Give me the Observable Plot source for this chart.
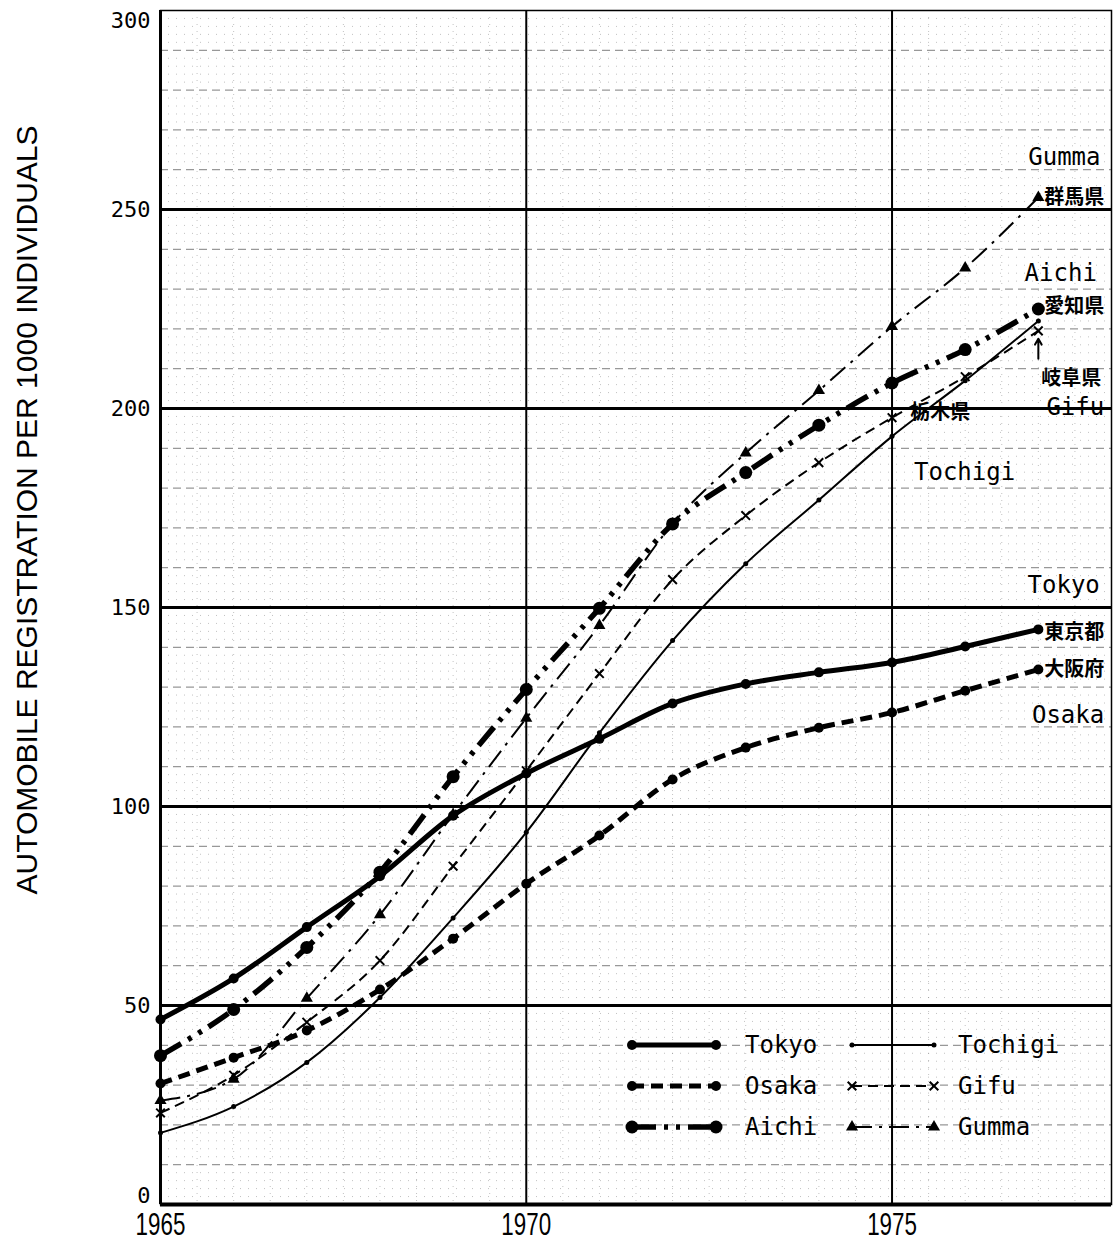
<!DOCTYPE html>
<html><head><meta charset="utf-8">
<script src="https://cdn.jsdelivr.net/npm/d3@7"></script>
<script src="https://cdn.jsdelivr.net/npm/@observablehq/plot@0.6"></script>
<style>
body{margin:0;background:#fff;}
#chart{position:relative;width:1114px;height:1243px;}
</style></head><body><div id="chart"></div>
<script>
// ---- data ----
const years   = [1965,1966,1967,1968,1969,1970,1971,1972,1973,1974,1975,1976,1977];
const tokyo   = [46.5,56.8,69.7,82.5,97.7,108.3,117.0,125.9,130.8,133.7,136.2,140.2,144.5];
const osaka   = [30.4,36.9,43.7,54.0,66.8,80.6,92.7,106.8,114.8,119.8,123.6,129.1,134.4];
const aichi   = [37.4,49.0,64.6,83.5,107.5,129.4,149.8,171.0,183.9,195.8,206.4,214.8,225.0];
const tochigi = [18.0,24.6,35.7,52.0,72.0,93.5,118.5,141.7,161.0,177.0,193.0,207.0,222.0];
const gifu    = [23.0,32.5,45.8,61.3,85.0,109.0,133.4,157.0,173.1,186.4,197.7,208.0,219.5];
const gumma   = [26.1,31.5,51.8,72.8,98.0,122.2,145.5,171.0,188.8,204.5,220.6,235.3,253.0];
const seriesNames = ["Tokyo","Osaka","Aichi","Tochigi","Gifu","Gumma"];
const seriesValues = [tokyo,osaka,aichi,tochigi,gifu,gumma];
const yTicks = [0,50,100,150,200,250,300];
const xTicks = [1965,1970,1975];
const yTitle = "AUTOMOBILE REGISTRATION PER 1000 INDIVIDUALS";
const annotations = [
  {text:"Gumma",  x:1977.85, y:263.0, kind:"en", anchor:"end"},
  {text:"群馬県", x:1977.90, y:253.0, kind:"ja", anchor:"end"},
  {text:"Aichi",  x:1977.80, y:234.0, kind:"en", anchor:"end"},
  {text:"愛知県", x:1977.90, y:225.5, kind:"ja", anchor:"end"},
  {text:"岐阜県", x:1977.86, y:207.5, kind:"ja", anchor:"end"},
  {text:"Gifu",   x:1977.90, y:200.3, kind:"en", anchor:"end"},
  {text:"栃木県", x:1975.25, y:199.0, kind:"ja", anchor:"start"},
  {text:"Tochigi",x:1975.30, y:184.0, kind:"en", anchor:"start"},
  {text:"Tokyo",  x:1977.84, y:155.5, kind:"en", anchor:"end"},
  {text:"東京都", x:1977.90, y:143.7, kind:"ja", anchor:"end"},
  {text:"大阪府", x:1977.90, y:134.4, kind:"ja", anchor:"end"},
  {text:"Osaka",  x:1977.90, y:122.9, kind:"en", anchor:"end"}
];
const arrowNote = [{x:1977.0, y1:212.5, y2:217.5}];

// ---- styles ----
const styles = {
  Tokyo:   {w:5,   dash:null,               sym:"circle",   r:5,   fill:true},
  Osaka:   {w:5,   dash:"12,7",             sym:"circle",   r:5,   fill:true},
  Aichi:   {w:5.5, dash:"24,8,4,8,4,8",     sym:"circle",   r:6.5, fill:true},
  Tochigi: {w:2,   dash:null,               sym:"circle",   r:2.5, fill:true},
  Gifu:    {w:2,   dash:"10,6",             sym:"times",    r:4,   fill:false},
  Gumma:   {w:2,   dash:"20,7,3,7",         sym:"triangle", r:4.5, fill:true}
};

const rows = [];
seriesNames.forEach((name,i)=>years.forEach((yr,j)=>rows.push({series:name, year:yr, value:seriesValues[i][j]})));

const fineY = d3.range(2,300,2).filter(v=>v%10!==0);
const tenY = d3.range(10,300,10).filter(v=>v%50!==0);
const halfX = d3.range(1965.5,1978,0.5).filter(v=>v!==1970 && v!==1975);

const seriesMarks = seriesNames.flatMap(name=>{
  const s = styles[name];
  const d = rows.filter(r=>r.series===name);
  return [
    Plot.line(d,{x:"year",y:"value",curve:"monotone-x",stroke:"black",strokeWidth:s.w,strokeDasharray:s.dash,strokeLinecap:"butt"}),
    Plot.dot(d,{x:"year",y:"value",r:s.r,symbol:s.sym,fill:s.fill?"black":"none",stroke:"black",strokeWidth:s.fill?0:2})
  ];
});

const chart = Plot.plot({
  width:1114, height:1243,
  marginLeft:160, marginRight:3, marginTop:10, marginBottom:39,
  x:{domain:[1965,1978]},
  y:{domain:[0,300]},
  style:{background:"white"},
  marks:[
    Plot.ruleY(fineY,{stroke:"#777",strokeWidth:1,strokeDasharray:"1,7",strokeOpacity:0.45}),
    Plot.ruleY(tenY,{stroke:"#444",strokeWidth:1.2,strokeDasharray:"8,5",strokeOpacity:0.55}),
    Plot.ruleX(halfX,{stroke:"#777",strokeWidth:1,strokeDasharray:"1,6",strokeOpacity:0.45}),
    Plot.ruleY([50,100,150,200,250],{stroke:"black",strokeWidth:3}),
    Plot.ruleX([1970,1975],{stroke:"black",strokeWidth:2}),
    Plot.frame({stroke:"black",strokeWidth:1.5}),
    Plot.ruleX([1965],{stroke:"black",strokeWidth:3}),
    Plot.ruleY([0],{stroke:"black",strokeWidth:4}),
    ...seriesMarks,
    Plot.text(annotations.filter(a=>a.kind==="en"&&a.anchor==="end"),{x:"x",y:"y",text:"text",textAnchor:"end",fontFamily:"DejaVu Sans Mono",fontSize:24,fill:"black"}),
    Plot.text(annotations.filter(a=>a.kind==="en"&&a.anchor==="start"),{x:"x",y:"y",text:"text",textAnchor:"start",fontFamily:"DejaVu Sans Mono",fontSize:24,fill:"black"}),
    Plot.text(annotations.filter(a=>a.kind==="ja"&&a.anchor==="end"),{x:"x",y:"y",text:"text",textAnchor:"end",fontFamily:"Noto Sans CJK JP",fontWeight:"bold",fontSize:20,fill:"black"}),
    Plot.text(annotations.filter(a=>a.kind==="ja"&&a.anchor==="start"),{x:"x",y:"y",text:"text",textAnchor:"start",fontFamily:"Noto Sans CJK JP",fontWeight:"bold",fontSize:20,fill:"black"}),
    Plot.arrow(arrowNote,{x1:"x",x2:"x",y1:"y1",y2:"y2",stroke:"black",strokeWidth:2,headLength:8}),
    Plot.axisY({ticks:yTicks,tickSize:0,tickPadding:10,label:null}),
    Plot.axisX({ticks:xTicks,tickSize:0,tickPadding:8,label:null,tickFormat:d=>String(d)})
  ]
});

document.getElementById("chart").appendChild(chart);
const svg = d3.select(chart);
const yl = svg.select('g[aria-label="y-axis tick label"]').attr("font-family","DejaVu Sans Mono").attr("font-size",22).attr("fill","black");
// nudge the end labels inward like the reference
yl.selectAll("text").each(function(){
  const t = this.textContent.trim();
  if (t==="300") this.setAttribute("transform",(this.getAttribute("transform")||"")+" translate(0,10)");
  if (t==="0") this.setAttribute("transform",(this.getAttribute("transform")||"")+" translate(0,-9)");
});
const xl = svg.select('g[aria-label="x-axis tick label"]').attr("font-family","Liberation Sans").attr("font-size",32).attr("fill","black");
xl.selectAll("text").attr("transform",function(){return (this.getAttribute("transform")||"")+" scale(0.7,1)";});

// y-axis title
svg.append("text")
  .attr("transform","translate(37,510) rotate(-90)")
  .attr("text-anchor","middle")
  .attr("font-family","Liberation Sans")
  .attr("font-size",30)
  .attr("fill","black")
  .text(yTitle);

// legend (inside plot, lower right)
const lg = svg.append("g").attr("aria-label","legend").attr("text-anchor","start");
seriesNames.forEach((name,i)=>{
  const s = styles[name];
  const col = i<3?0:1, row = i%3;
  const x1 = col===0?632:852, x2 = col===0?716:934, tx = col===0?745:958;
  const y = 1045 + row*41;
  lg.append("line").attr("x1",x1).attr("x2",x2).attr("y1",y).attr("y2",y)
    .attr("stroke","black").attr("stroke-width",s.w).attr("stroke-dasharray",s.dash);
  const sym = s.sym==="circle"?d3.symbolCircle:s.sym==="times"?d3.symbolTimes:d3.symbolTriangle;
  [x1,x2].forEach(px=>{
    lg.append("path").attr("d",d3.symbol(sym, Math.PI*s.r*s.r)())
      .attr("transform",`translate(${px},${y})`)
      .attr("fill",s.fill?"black":"none").attr("stroke","black").attr("stroke-width",s.fill?0:2);
  });
  lg.append("text").attr("x",tx).attr("y",y).attr("dy","0.32em").attr("text-anchor","start")
    .attr("font-family","DejaVu Sans Mono").attr("font-size",24).attr("fill","black").text(name);
});
</script></body></html>
